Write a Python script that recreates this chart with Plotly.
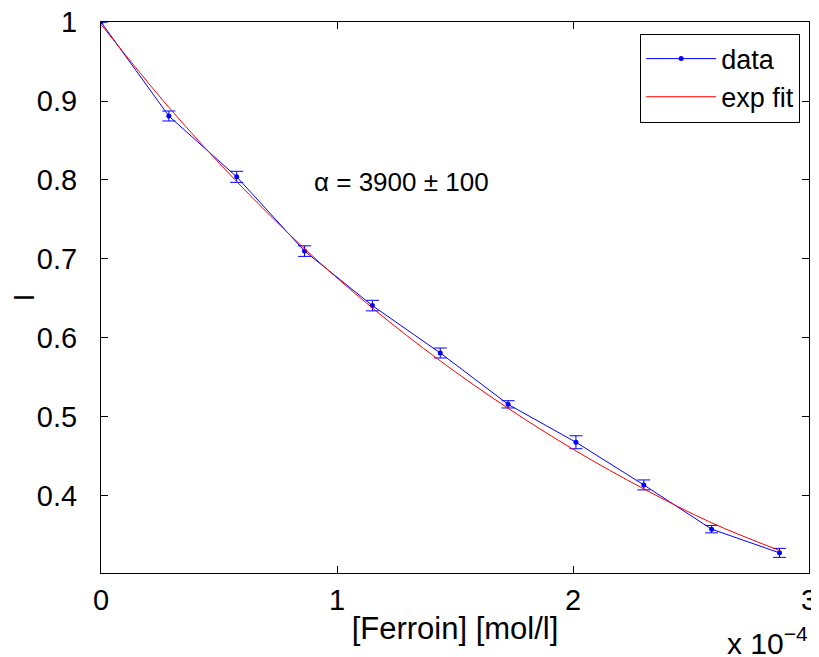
import plotly.graph_objects as go

# Data (concentration in mol/l)
conc = [0.0, 0.2875e-4, 0.575e-4, 0.8625e-4, 1.15e-4, 1.4375e-4,
        1.725e-4, 2.0125e-4, 2.3e-4, 2.5875e-4, 2.875e-4]
intensity = [1.0, 0.881, 0.804, 0.710, 0.641, 0.581, 0.516, 0.468, 0.414, 0.358, 0.328]
intensity_err = [0.0, 0.0063, 0.007, 0.0067, 0.0067, 0.0063, 0.0046, 0.0082, 0.0063, 0.0047, 0.0057]
fit_vals = [0.997, 0.892, 0.798, 0.713, 0.638, 0.571, 0.511, 0.457, 0.409, 0.366, 0.331]

x_tickvals = [0, 1e-4, 2e-4, 3e-4]
x_ticktext = ["0", "1", "2", "3"]
y_tickvals = [0.4, 0.5, 0.6, 0.7, 0.8, 0.9, 1.0]
y_ticktext = ["0.4", "0.5", "0.6", "0.7", "0.8", "0.9", "1"]

FONT = "Liberation Sans, Arial, Helvetica, sans-serif"

fig = go.Figure()
fig.add_trace(go.Scatter(
    x=conc, y=intensity, name="data", mode="lines+markers",
    line=dict(color="#0000ff", width=1),
    marker=dict(color="#0000ff", size=5),
    error_y=dict(type="data", array=intensity_err, visible=True,
                 color="#0000ff", thickness=1, width=6.5),
))
fig.add_trace(go.Scatter(
    x=conc, y=fit_vals, name="exp fit", mode="lines",
    line=dict(color="#ff0000", width=1, shape="spline"),
))

# page body adds an 8px margin, so the figure is 8px smaller on each axis
fig.update_layout(
    width=811, height=649,
    margin=dict(l=93, r=10, t=14, b=84, autoexpand=False),
    paper_bgcolor="white", plot_bgcolor="white",
    font=dict(family=FONT, size=29, color="black"),
    showlegend=True,
    legend=dict(x=0.9875, y=0.979, xanchor="right", yanchor="top",
                bordercolor="black", borderwidth=1, bgcolor="white",
                font=dict(size=27), tracegroupgap=0, itemwidth=70),
    xaxis=dict(range=[0, 3e-4], tickvals=x_tickvals, ticktext=x_ticktext,
               ticks="inside", ticklen=7, tickcolor="black", mirror="ticks",
               showline=True, linecolor="black", linewidth=1, showgrid=False,
               zeroline=False, ticklabelstandoff=1, automargin=False,
               ticklabeloverflow="allow",
               title=dict(text="[Ferroin] [mol/l]", font=dict(size=31), standoff=2)),
    yaxis=dict(range=[0.3025, 1.0], tickvals=y_tickvals, ticktext=y_ticktext,
               ticks="inside", ticklen=7, tickcolor="black", mirror="ticks",
               showline=True, linecolor="black", linewidth=1, showgrid=False,
               zeroline=False, ticklabelstandoff=17, automargin=False,
               ticklabeloverflow="allow",
               title=dict(text="I", font=dict(size=29), standoff=11)),
    annotations=[
        dict(text="α = 3900 ± 100", x=1.273e-4, y=0.797, xref="x", yref="y",
             showarrow=False, font=dict(size=26), xanchor="center", yanchor="middle"),
        dict(text="x 10<sup>−4</sup>", x=1.0, y=-0.149, xref="paper", yref="paper",
             xshift=1, yshift=-7, showarrow=False, font=dict(size=30),
             xanchor="right", yanchor="bottom"),
    ],
)

fig.write_html("out.html")
